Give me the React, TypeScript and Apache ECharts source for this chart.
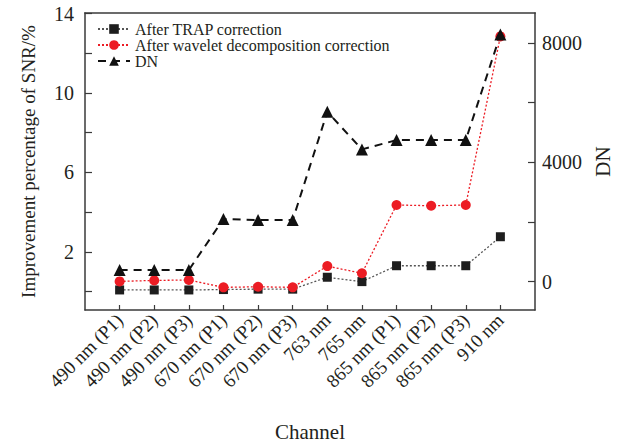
import React, { useEffect, useRef } from "react";
import * as echarts from "echarts";

const categories = [
  "490 nm (P1)", "490 nm (P2)", "490 nm (P3)",
  "670 nm (P1)", "670 nm (P2)", "670 nm (P3)",
  "763 nm", "765 nm",
  "865 nm (P1)", "865 nm (P2)", "865 nm (P3)", "910 nm",
];
const trapValues = [0.08, 0.08, 0.08, 0.1, 0.12, 0.12, 0.72, 0.5, 1.3, 1.3, 1.3, 2.76];
const waveletValues = [0.51, 0.56, 0.58, 0.21, 0.24, 0.21, 1.28, 0.92, 4.36, 4.32, 4.36, 12.85];
const dnValues = [392, 392, 392, 2099, 2065, 2065, 5690, 4432, 4743, 4743, 4743, 8280];
const leftTicks = [0, 2, 4, 6, 8, 10, 12, 14];
const leftLabels = [2, 6, 10, 14];
const rightTicks = [0, 2000, 4000, 6000, 8000];
const rightLabels = [0, 4000, 8000];

const FONT = "'Liberation Serif', 'Times New Roman', serif";
const TEXT = "#231f20";
const AXIS = "#3a3a3a";

const W = 622;
const H = 444;
const GRID = { left: 85, right: 87, top: 13, bottom: 134 };

export default function App() {
  const ref = useRef<HTMLDivElement>(null);
  useEffect(() => {
    if (!ref.current) return;
    const chart = echarts.init(ref.current, null, { renderer: "svg" });
    const padded = ["", ...categories, ""];
    const pad = (arr: number[]) => [null, ...arr, null];
    chart.setOption({
      animation: false,
      backgroundColor: "#fff",
      textStyle: { fontFamily: FONT, color: TEXT },
      grid: { ...GRID, containLabel: false, outerBoundsMode: "none" },
      graphic: {
        elements: [
          {
            type: "rect",
            z: 100,
            silent: true,
            x: GRID.left - 0.75,
            y: GRID.top - 0.75,
            shape: { x: 0, y: 0, width: W - GRID.left - GRID.right + 1.5, height: 1.6 },
            style: { fill: AXIS, stroke: null },
          },
        ],
      },
      legend: {
        orient: "vertical",
        left: 92,
        top: 16,
        itemWidth: 32,
        itemHeight: 12,
        itemGap: 0,
        textStyle: { fontFamily: FONT, fontSize: 16, color: TEXT },
        data: ["After TRAP correction", "After wavelet decomposition correction", "DN"],
      },
      xAxis: {
        type: "category",
        data: padded,
        boundaryGap: false,
        name: "Channel",
        nameLocation: "middle",
        nameGap: 111,
        nameTextStyle: { fontFamily: FONT, fontSize: 21, color: TEXT },
        axisLine: { onZero: false, lineStyle: { color: AXIS, width: 1.5 } },
        axisTick: {
          inside: true, length: 5, lineStyle: { color: AXIS, width: 1.2 },
          interval: (i: number) => i > 0 && i < padded.length - 1,
        },
        axisLabel: {
          rotate: 45, interval: 0, margin: 7,
          fontFamily: FONT, fontSize: 19, color: TEXT,
        },
        splitLine: { show: false },
      },
      yAxis: [
        {
          type: "value",
          min: -0.93,
          max: 14.03,
          name: "Improvement percentage of SNR/%",
          nameLocation: "middle",
          nameRotate: 90,
          nameGap: 47,
          nameTextStyle: { fontFamily: FONT, fontSize: 19, color: TEXT },
          axisLine: { show: true, onZero: false, lineStyle: { color: AXIS, width: 1.5 } },
          axisTick: { show: true, inside: true, length: 7, customValues: leftTicks, lineStyle: { color: AXIS, width: 1.2 } },
          axisLabel: { customValues: leftLabels, fontFamily: FONT, fontSize: 20, color: TEXT, margin: 11 },
          splitLine: { show: false },
        },
        {
          type: "value",
          position: "right",
          min: -947,
          max: 9000,
          name: "DN",
          nameLocation: "middle",
          nameRotate: 90,
          nameGap: 57,
          nameTextStyle: { fontFamily: FONT, fontSize: 21, color: TEXT },
          axisLine: { show: true, onZero: false, lineStyle: { color: AXIS, width: 1.5 } },
          axisTick: { show: true, inside: true, length: 7, customValues: rightTicks, lineStyle: { color: AXIS, width: 1.2 } },
          axisLabel: {
            customValues: rightLabels, fontFamily: FONT, fontSize: 20, color: TEXT, margin: 7,
            formatter: (v: number) => String(v),
          },
          splitLine: { show: false },
        },
      ],
      series: [
        {
          name: "After TRAP correction",
          type: "line",
          yAxisIndex: 0,
          data: pad(trapValues),
          symbol: "rect",
          symbolSize: 9,
          itemStyle: { color: "#1e1e1e" },
          lineStyle: { color: "#555", width: 1.3, type: [2, 2] },
        },
        {
          name: "After wavelet decomposition correction",
          type: "line",
          yAxisIndex: 0,
          data: pad(waveletValues),
          symbol: "circle",
          symbolSize: 10,
          itemStyle: { color: "#ec1c24" },
          lineStyle: { color: "#ec1c24", width: 1.3, type: [2, 2] },
        },
        {
          name: "DN",
          type: "line",
          yAxisIndex: 1,
          data: pad(dnValues),
          symbol: "triangle",
          symbolSize: 12,
          itemStyle: { color: "#111" },
          lineStyle: { color: "#111", width: 2, type: [8, 6] },
        },
      ],
    });
    return () => chart.dispose();
  }, []);
  return <div ref={ref} style={{ width: W, height: H, position: "absolute", left: 0, top: 0 }} />;
}
